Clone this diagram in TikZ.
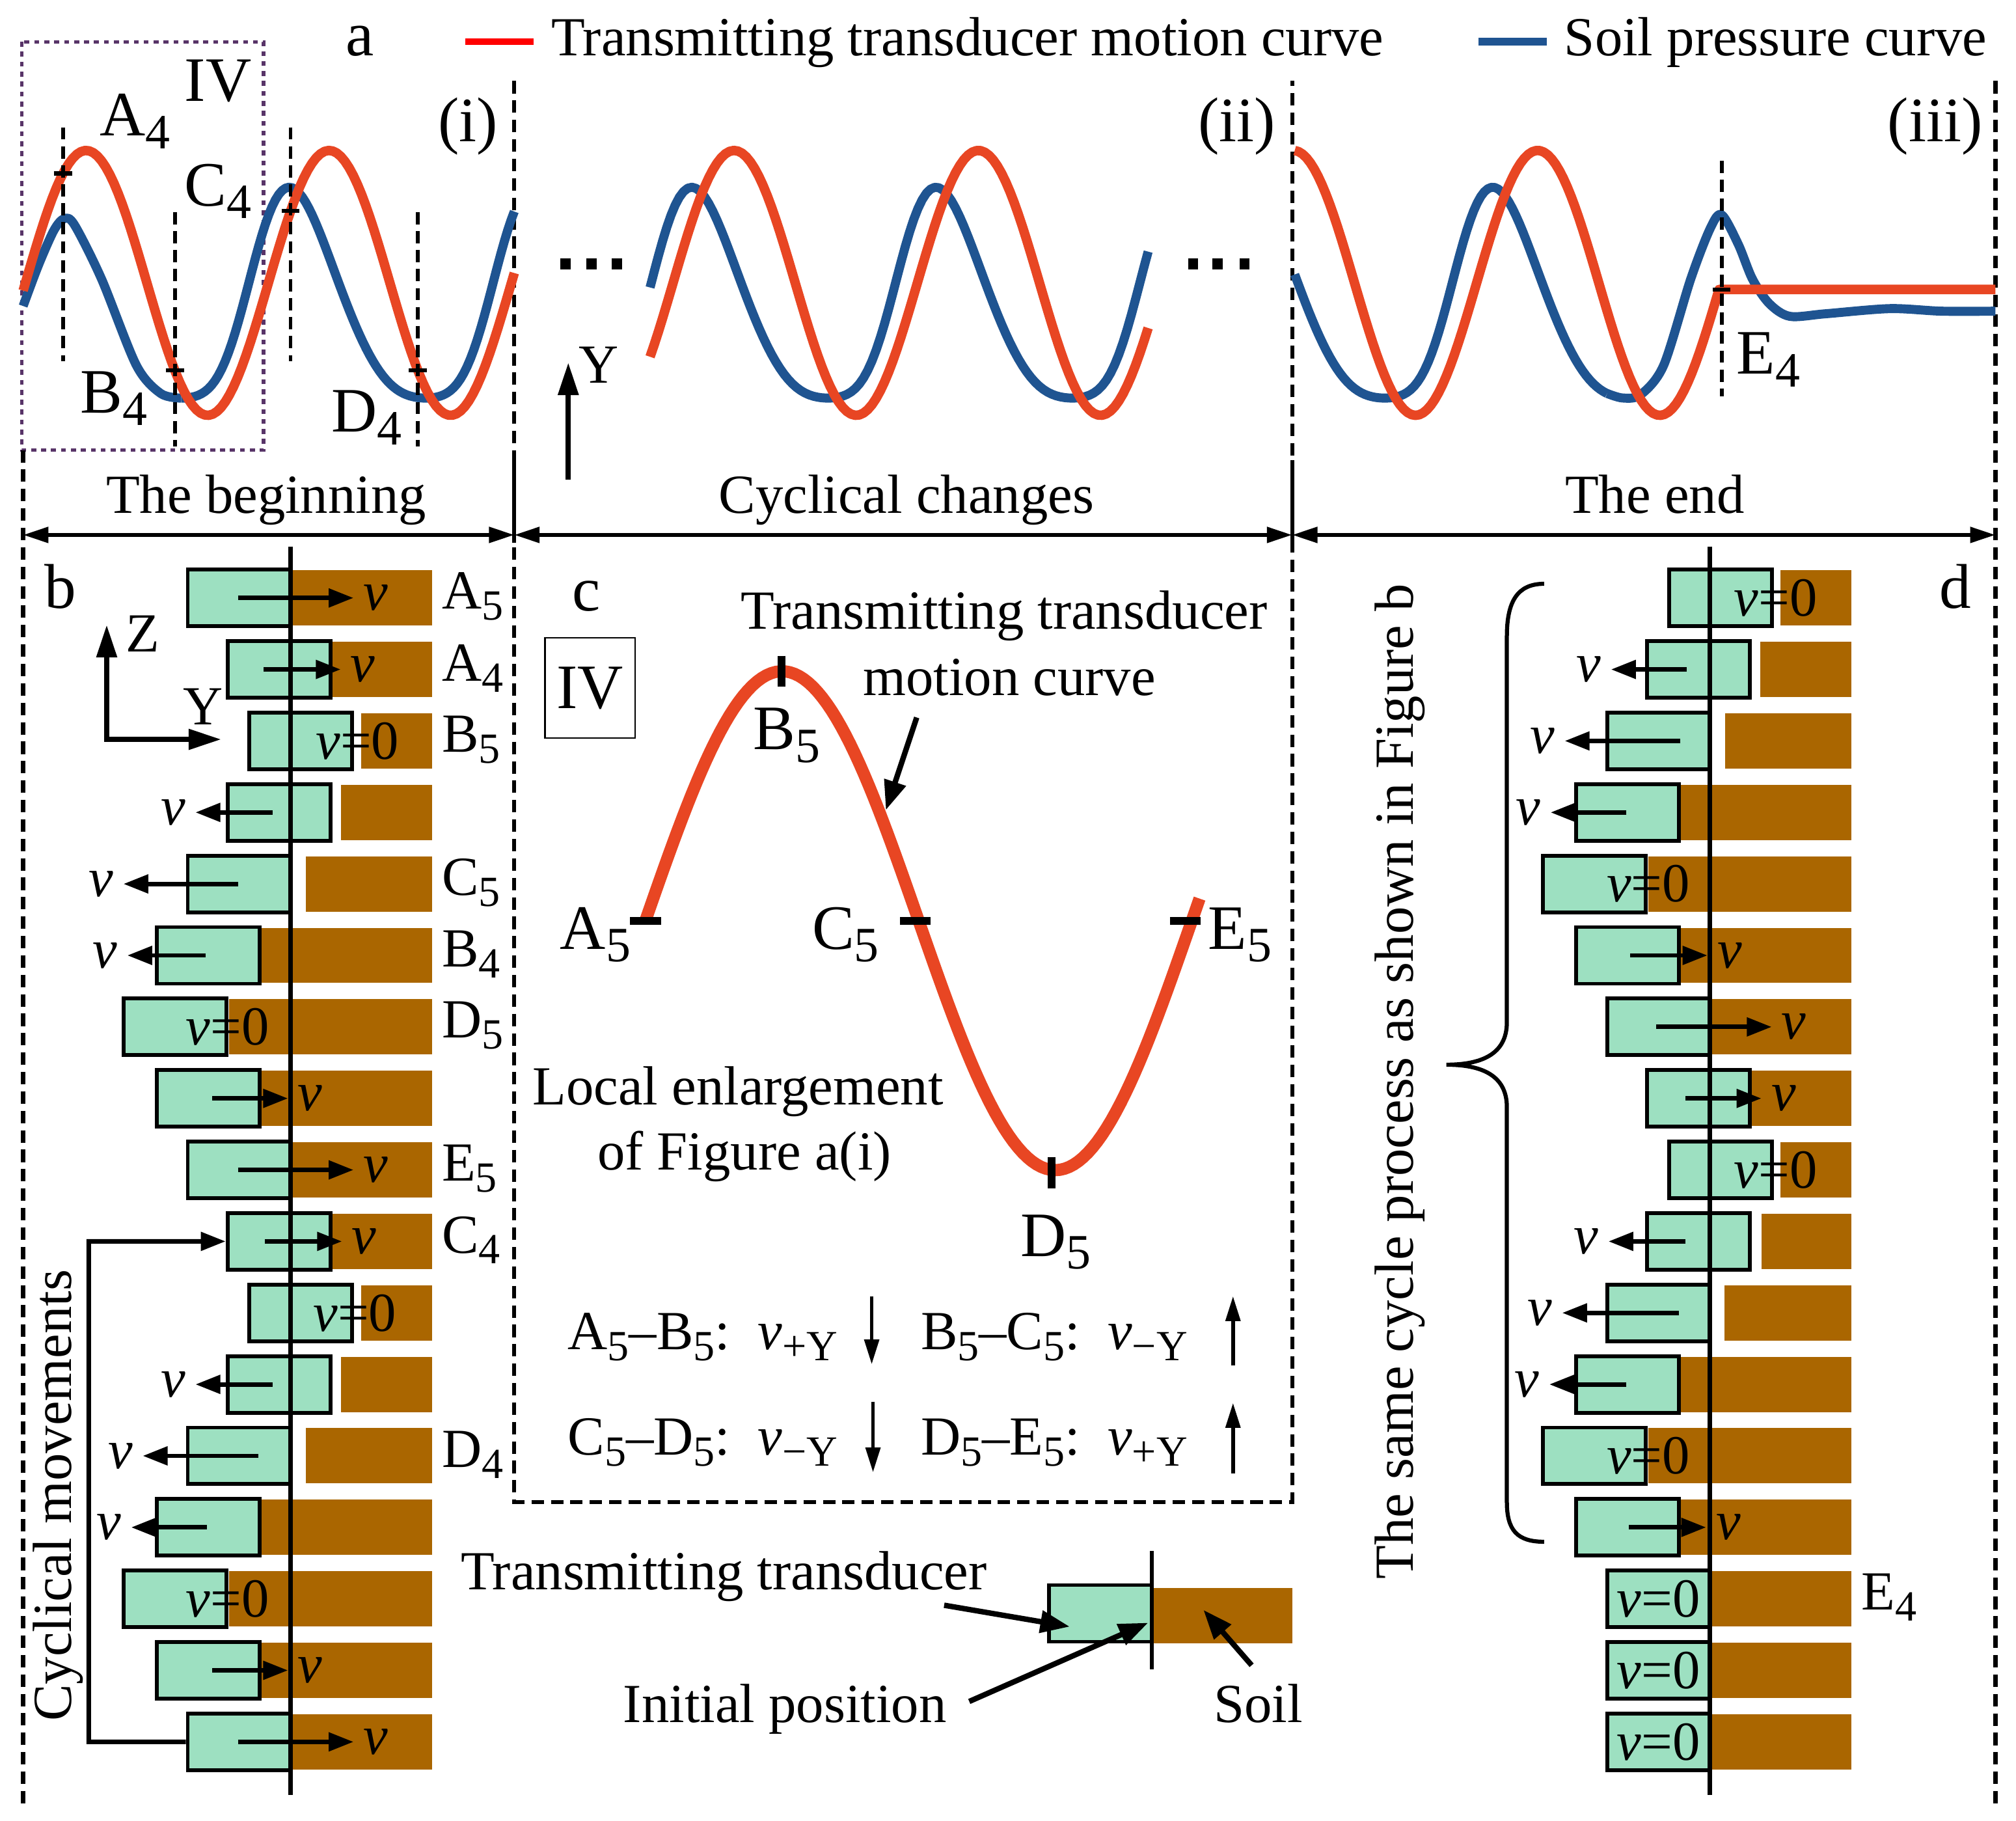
\documentclass[tikz,border=0pt]{standalone}
\usepackage{fontspec}
\setmainfont{Liberation Serif}
\usepackage{graphicx}
\usetikzlibrary{arrows.meta,calc}

\definecolor{soilbrown}{RGB}{170,102,0}
\definecolor{tdgreen}{RGB}{157,224,193}
\definecolor{motred}{RGB}{232,70,35}
\definecolor{presblue}{RGB}{31,84,145}
\definecolor{ivpurple}{RGB}{88,52,104}

\newcommand{\subs}[1]{\raisebox{-0.2em}{\scalebox{0.78}{#1}}}
\newcommand{\vsym}{\textit{v}}

\begin{document}
\begin{tikzpicture}[x=0.1mm,y=-0.1mm,
  declare function={rw(\w)=220-103*cos(\w);
    bw(\w)=244-82*(cos(\w-11*(1-cos(\w)))+0.2*cos(2*(\w-11*(1-cos(\w)))));},
  txt/.style={font=\fontsize{12.2}{14}\selectfont,inner sep=0pt},
  lab/.style={font=\fontsize{14}{16}\selectfont,inner sep=0pt},
  frame/.style={line width=0.9pt,dash pattern=on 2.75pt off 1.55pt},
  cutline/.style={line width=0.85pt,dash pattern=on 2.7pt off 1.5pt},
  motion/.style={motred,line width=2.1pt,line join=round},
  pressure/.style={presblue,line width=2pt,line join=round},
  span/.style={{Triangle[length=5.6pt,width=3.4pt]}-{Triangle[length=5.6pt,width=3.4pt]},line width=0.9pt},
  axis/.style={-{Triangle[length=7.2pt,width=4.4pt]},line width=1.1pt},
  tdbox/.style={draw,line width=0.85pt,fill=tdgreen,minimum width=8mm,minimum height=4.4mm,inner sep=0pt},
  vel/.style={-{Triangle[length=5.5pt,width=4pt]},line width=1pt},
  vlab/.style={txt,inner xsep=2pt},
  ptr/.style={-{Triangle[length=6.5pt,width=4.8pt]},line width=1.2pt},
  sarr/.style={-{Triangle[length=5.5pt,width=3.2pt]},line width=0.8pt},
  ctick/.style={line width=1.7pt}]
\useasboundingbox (0,0) rectangle (1568,1416);

% legend
\node[lab,anchor=base] (la) at (280,43.4) {a};
\draw[red,line width=1.5pt] (362,32.5) -- (415,32.5);
\node[txt,anchor=base west] (legm) at (428,43.4) {Transmitting transducer motion curve};
\draw[presblue,line width=1.8pt] (1150,32.5) -- (1203,32.5);
\node[txt,anchor=base west] (legp) at (1216,43.4) {Soil pressure curve};

% frames
\draw[ivpurple,line width=0.75pt,dash pattern=on 1.1pt off 1.1pt] (17,32.5) rectangle (205,350);
\draw[frame] (18,350) -- (18,1404);
\draw[frame] (400,63) -- (400,1168) -- (1005,1168) -- (1005,63);
\draw[frame] (1552,63) -- (1552,1403);
\draw[line width=0.9pt] (400,358) -- (400,422) (1005,358) -- (1005,422);
\coordinate (fa) at (18,416);
\coordinate (fb) at (400,416);
\coordinate (fc) at (1005,416);
\coordinate (fd) at (1552,416);
\draw[span] (fa) -- (fb);
\draw[span] (fb) -- (fc);
\draw[span] (fc) -- (fd);
\node[txt,anchor=base] (tbeg) at (207,399) {The beginning};
\node[txt,anchor=base] (tcyc) at (705,399) {Cyclical changes};
\node[txt,anchor=base] (tend) at (1287,399) {The end};

% a(i)
\draw[pressure] plot[smooth] coordinates {(18,238) (30,206) (42,179) (50,170) (58,175) (79,217) (106,284) (125,306) (141,309.6)};
\draw[pressure] plot[domain=141:400,samples=100] (\x,{bw(1.894737*(\x-225))});
\draw[motion] plot[domain=18:400,samples=120] (\x,{rw(1.904762*(\x-67))});
\draw[cutline] (49,99) -- (49,281);
\draw[cutline] (136,165) -- (136,347);
\draw[cutline] (226,99) -- (226,281);
\draw[cutline] (325,165) -- (325,347);
\coordinate (tA4) at (49,{rw(1.904762*(49-67))});
\coordinate (tB4) at (136,{rw(1.904762*(136-67))});
\coordinate (tC4) at (226,{rw(1.904762*(226-67))});
\coordinate (tD4) at (325,{rw(1.904762*(325-67))});
\node[lab,anchor=base west] (A4) at (77,105.7) {A\subs{4}};
\node[lab,anchor=base west] (IVa) at (143,78.6) {IV};
\node[lab,anchor=base west] (C4) at (143,160) {C\subs{4}};
\node[lab,anchor=base west] (B4) at (62,321) {B\subs{4}};
\node[lab,anchor=base west] (D4) at (257,336) {D\subs{4}};
\node[lab,anchor=base] (pi) at (364,110) {(i)};

% a(ii)
\draw[pressure] plot[domain=505.6:893,samples=120] (\x,{bw(1.894737*(\x-538))});
\draw[motion] plot[domain=505.6:893,samples=120] (\x,{rw(1.894737*(\x-571))});
\foreach \d in {440,460,480,928,947,968}
  \fill (\d-4,201) rectangle (\d+4,209.5);
\coordinate (ya0) at (442,373);
\coordinate (ya1) at (442,282);
\draw[axis] (ya0) -- (ya1);
\node[txt,anchor=base west] (ya) at (449.5,298) {Y};
\node[lab,anchor=base] (pii) at (962,110) {(ii)};

% a(iii)
\draw[pressure] plot[domain=1007:1250,samples=90] (\x,{bw(1.894737*(\x-1161))});
\draw[pressure] plot[smooth] coordinates {(1250,306) (1262,309.5) (1276,307) (1294,284) (1315,217) (1330,178) (1339,167) (1352,190) (1363,217) (1376,236) (1392,246) (1420,244) (1470,240) (1510,242) (1552,242)};
\draw[motion] plot[domain=1007:1337,samples=110] (\x,{rw(1.894737*(\x-1196))}) -- (1552,{rw(1.894737*(1337-1196))});
\draw[cutline] (1339,125) -- (1339,308);
\coordinate (tE4) at (1339,{rw(1.894737*(1337-1196))});
\node[lab,anchor=base west] (E4) at (1350,291) {E\subs{4}};
\node[lab,anchor=base] (piii) at (1505,110) {(iii)};
\foreach \tk in {tA4,tB4,tC4,tD4,tE4}
  \draw[line width=0.9pt] (\tk) +(-7,0) -- +(7,0);

% b
\node[lab,anchor=base] (lb) at (47,473) {b};
\coordinate (zz) at (83,486);
\coordinate (zo) at (83,575);
\coordinate (zy) at (172,575);
\draw[axis,{Triangle[length=7.2pt,width=4.4pt]}-{Triangle[length=7.2pt,width=4.4pt]}] (zz) -- (zo) -- (zy);
\node[txt,anchor=base west] (zl) at (97,507) {Z};
\node[txt,anchor=base west] (yl) at (142,563.5) {Y};
\foreach \r/\gx/\sx in {1/-80/0,2/-49/31,3/-32/55,4/-49/39,5/-80/12,6/-104/-23,7/-130/-48,8/-104/-23,9/-80/0,10/-49/31,11/-32/55,12/-49/39,13/-80/12,14/-104/-23,15/-130/-48,16/-104/-23,17/-80/0}{
  \pgfmathsetmacro{\yr}{465+55.6*(\r-1)}
  \fill[soilbrown] (226+\sx,\yr-21.5) rectangle (336,\yr+21.5);
  \node[tdbox] (b\r) at (266+\gx,\yr) {};
}
\draw[line width=1pt] (226,425) -- (226,1396);
\foreach \r/\a/\e in {1/-41/49,2/-21/39,8/-61/-2,9/-41/49,10/-20/40,16/-61/-2,17/-41/49}{
  \pgfmathsetmacro{\yr}{465+55.6*(\r-1)}
  \coordinate (bs\r) at (226+\a,\yr);
  \node[vlab,anchor=west] (bv\r) at (226+\e,\yr) {\vsym};
  \draw[vel] (bs\r) -- (bv\r);
}
\foreach \r/\a/\e in {4/-14/-74,5/-41/-130,6/-66/-127,12/-14/-74,13/-25/-115,14/-65/-124}{
  \pgfmathsetmacro{\yr}{465+55.6*(\r-1)}
  \coordinate (bs\r) at (226+\a,\yr);
  \node[vlab,anchor=east] (bv\r) at (226+\e,\yr) {\vsym};
  \draw[vel] (bs\r) -- (bv\r);
}
\foreach \r/\c in {3/52,7/-49,11/50,15/-49}
  \node[txt] (bz\r) at (226+\c,{465+55.6*(\r-1)}) {\vsym=0};
\foreach \r/\lbl in {1/A\subs{5},2/A\subs{4},3/B\subs{5},5/C\subs{5},6/B\subs{4},7/D\subs{5},9/E\subs{5},10/C\subs{4},13/D\subs{4}}
  \node[txt,anchor=west] (bl\r) at (343,{465+55.6*(\r-1)-1}) {\lbl};
\coordinate (cm) at (69,1354.6);
\draw[vel] (b17.west) -- (cm) |- (b10.west);
\node[txt,rotate=90,anchor=base] (cycm) at (55.5,1163) {Cyclical movements};

% c
\node[lab,anchor=base] (lc) at (456,475) {c};
\node[lab,draw,line width=0.4pt,minimum width=7mm,minimum height=7.8mm] (IVc) at (459,535) {IV};
\draw[motion,line width=2.7pt] plot[domain=502:933,samples=120] (\x,{716-194*sin(0.847059*(\x-502))});
\coordinate (cA) at (502,716);
\coordinate (cB) at (608,522);
\coordinate (cC) at (712,716);
\coordinate (cD) at (818,912);
\coordinate (cE) at (922,716);
\foreach \tk in {cA,cC,cE}
  \draw[ctick] (\tk) +(-12,0) -- +(12,0);
\foreach \tk in {cB,cD}
  \draw[ctick] (\tk) +(0,-12) -- +(0,12);
\node[lab,anchor=base west] (A5c) at (435,738) {A\subs{5}};
\node[lab,anchor=base west] (B5c) at (585,583) {B\subs{5}};
\node[lab,anchor=base west] (C5c) at (631,738) {C\subs{5}};
\node[lab,anchor=base west] (E5c) at (939,738) {E\subs{5}};
\node[lab,anchor=base west] (D5c) at (793,977) {D\subs{5}};
\node[txt,anchor=base] (tc1) at (781,489) {Transmitting transducer};
\node[txt,anchor=base] (tc2) at (785,541) {motion curve};
\coordinate (cp0) at (713,558);
\coordinate (cp1) at (689,630);
\draw[ptr] (cp0) -- (cp1);
\node[txt,anchor=base] (le1) at (574,859) {Local enlargement};
\node[txt,anchor=base] (le2) at (579,910) {of Figure a(i)};
\node[txt,anchor=base west] (ab) at (441,1049.5) {A\subs{5}–B\subs{5}:\ \ \vsym\subs{+Y}};
\node[txt,anchor=base west] (bc) at (715.5,1049.5) {B\subs{5}–C\subs{5}:\ \ \vsym\subs{−Y}};
\node[txt,anchor=base west] (cd) at (441,1131.7) {C\subs{5}–D\subs{5}:\ \ \vsym\subs{−Y}};
\node[txt,anchor=base west] (de) at (715.5,1131.7) {D\subs{5}–E\subs{5}:\ \ \vsym\subs{+Y}};
\coordinate (d1a) at (678,1008);
\coordinate (d1b) at (678,1061);
\coordinate (u1a) at (959,1062);
\coordinate (u1b) at (959,1008);
\coordinate (d2a) at (679,1090);
\coordinate (d2b) at (679,1145);
\coordinate (u2a) at (959,1146);
\coordinate (u2b) at (959,1091);
\draw[sarr] (d1a) -- (d1b);
\draw[sarr] (u1a) -- (u1b);
\draw[sarr] (d2a) -- (d2b);
\draw[sarr] (u2a) -- (u2b);

% key below c
\node[txt,anchor=base] (tt) at (563,1236.4) {Transmitting transducer};
\fill[soilbrown] (896,1235) rectangle (1005,1278);
\node[tdbox] (ig) at (856,1254.7) {};
\draw[line width=0.9pt] (896,1206) -- (896,1298);
\node[txt,anchor=base] (ip) at (610.5,1339.5) {Initial position};
\node[txt,anchor=base] (sl) at (978.5,1339.5) {Soil};
\coordinate (ttip) at (832,1265);
\coordinate (iptip) at (893,1262);
\coordinate (sltip) at (936,1252);
\draw[ptr] ($(tt.south east)+(-34,2)$) -- (ttip);
\draw[ptr] ($(ip.east)+(17,-6)$) -- (iptip);
\draw[ptr] ($(sl.north)+(-5,-14)$) -- (sltip);

% d
\node[lab,anchor=base] (ld) at (1521,473) {d};
\foreach \r/\gx/\sx in {1/-32/55,2/-49/39,3/-80/12,4/-104/-23,5/-130/-48,6/-104/-23,7/-80/0,8/-49/31,9/-32/55,10/-49/40,11/-80/11,12/-104/-23,13/-130/-48,14/-104/-23,15/-80/0,16/-80/0,17/-80/0}{
  \pgfmathsetmacro{\yr}{465+55.6*(\r-1)}
  \fill[soilbrown] (1330+\sx,\yr-21.5) rectangle (1440,\yr+21.5);
  \node[tdbox] (d\r) at (1370+\gx,\yr) {};
}
\draw[line width=1pt] (1330,425) -- (1330,1396);
\foreach \r/\a/\e in {6/-62/-2,7/-42/48,8/-19/40,14/-63/-3}{
  \pgfmathsetmacro{\yr}{465+55.6*(\r-1)}
  \coordinate (ds\r) at (1330+\a,\yr);
  \node[vlab,anchor=west] (dv\r) at (1330+\e,\yr) {\vsym};
  \draw[vel] (ds\r) -- (dv\r);
}
\foreach \r/\a/\e in {2/-18/-77,3/-23/-113,4/-65/-124,10/-19/-79,11/-24/-115,12/-65/-125}{
  \pgfmathsetmacro{\yr}{465+55.6*(\r-1)}
  \coordinate (ds\r) at (1330+\a,\yr);
  \node[vlab,anchor=east] (dv\r) at (1330+\e,\yr) {\vsym};
  \draw[vel] (ds\r) -- (dv\r);
}
\foreach \r/\c in {1/51,5/-48,9/51,13/-48,15/-40,16/-40,17/-40}
  \node[txt] (dz\r) at (1330+\c,{465+55.6*(\r-1)}) {\vsym=0};
\node[txt,anchor=west] (dE4) at (1447,{465+55.6*14-1}) {E\subs{4}};
\draw[line width=0.9pt] (1201,454) .. controls (1180,454) and (1172,468) .. (1172,495)
  -- (1172,795) .. controls (1172,820) and (1152,828) .. (1125,828)
  .. controls (1152,828) and (1172,836) .. (1172,861)
  -- (1172,1168) .. controls (1172,1190) and (1180,1199) .. (1201,1199);
\node[txt,rotate=90,anchor=base] (same) at (1099,841) {The same cycle process as shown in Figure b};
\end{tikzpicture}
\end{document}
